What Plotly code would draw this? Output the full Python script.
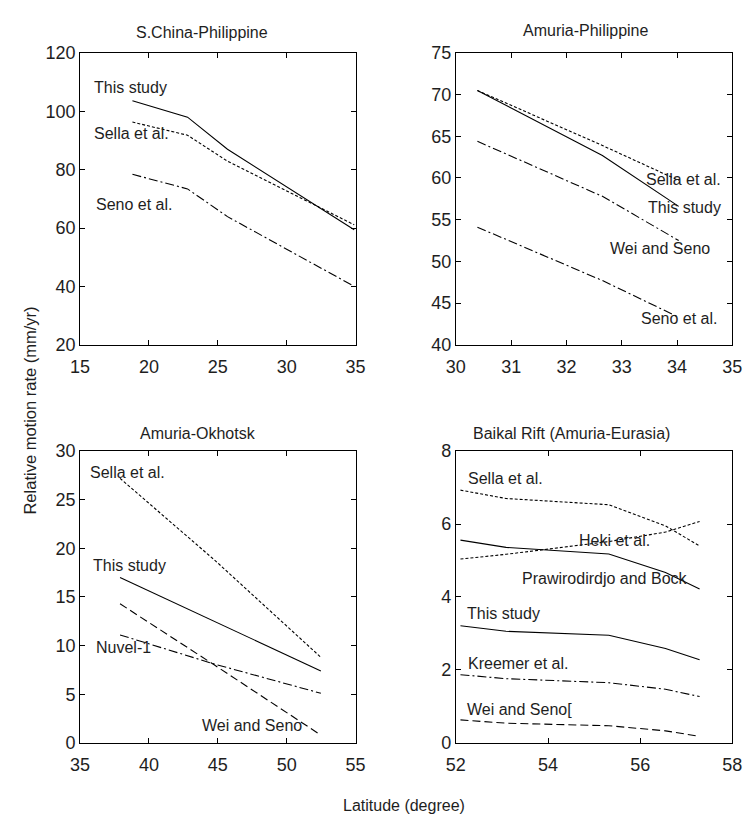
import plotly.graph_objects as go

# ---------------- data ----------------
# Panel 1: S.China-Philippine
p1_lat = [18.8, 22.8, 25.7, 34.9]
p1_this = [103.6, 98.0, 87.0, 59.4]
p1_sella = [96.3, 91.8, 82.9, 61.1]
p1_seno = [78.4, 73.4, 63.9, 40.0]

# Panel 2: Amuria-Philippine
p2_lat = [30.39, 32.65, 34.03]
p2_this = [70.5, 62.7, 56.6]
p2_sella = [70.5, 63.9, 59.7]
p2_wei = [64.4, 57.8, 52.5]
p2_seno = [54.1, 47.7, 43.3]

# Panel 3: Amuria-Okhotsk
p3_lat = [37.9, 44.76, 52.48]
p3_sella = [27.2, 18.8, 8.8]
p3_this = [17.0, 12.5, 7.4]
p3_wei = [14.3, 8.0, 0.8]
p3_nuvel = [11.1, 8.1, 5.1]

# Panel 4: Baikal Rift (Amuria-Eurasia)
p4_lat = [52.1, 53.09, 55.32, 56.55, 57.29]
p4_sella = [6.93, 6.70, 6.53, 5.95, 5.40]
p4_heki = [5.04, 5.17, 5.52, 5.78, 6.07]
p4_praw = [5.56, 5.36, 5.18, 4.67, 4.22]
p4_this = [3.21, 3.06, 2.95, 2.59, 2.28]
p4_kreemer = [1.87, 1.76, 1.65, 1.47, 1.27]
p4_wei = [0.63, 0.54, 0.47, 0.33, 0.18]

titles = ["S.China-Philippine", "Amuria-Philippine", "Amuria-Okhotsk", "Baikal Rift (Amuria-Eurasia)"]

# ---------------- figure ----------------
W, H = 754, 829
FONT = "Liberation Sans, Arial, sans-serif"
TXT = "#1e1e1e"

def px_x(p):
    return p / W

def px_y(p):
    return 1 - p / H

fig = go.Figure()

SOLID = "solid"
DOT = "3px,2px"
DASH = "8px,4px"
DASHDOT = "9px,3px,2px,3px"

def add(xs, ys, dash, ax):
    fig.add_trace(go.Scatter(x=xs, y=ys, mode="lines",
                             line=dict(color="black", width=1.1, dash=dash),
                             xaxis="x" + ax, yaxis="y" + ax, showlegend=False,
                             hoverinfo="skip"))

add(p1_lat, p1_this, SOLID, "")
add(p1_lat, p1_sella, DOT, "")
add(p1_lat, p1_seno, DASHDOT, "")

add(p2_lat, p2_this, SOLID, "2")
add(p2_lat, p2_sella, DOT, "2")
add(p2_lat, p2_wei, DASHDOT, "2")
add(p2_lat, p2_seno, DASHDOT, "2")

add(p3_lat, p3_sella, DOT, "3")
add(p3_lat, p3_this, SOLID, "3")
add(p3_lat, p3_wei, DASH, "3")
add(p3_lat, p3_nuvel, DASHDOT, "3")

add(p4_lat, p4_sella, DOT, "4")
add(p4_lat, p4_heki, DOT, "4")
add(p4_lat, p4_praw, SOLID, "4")
add(p4_lat, p4_this, SOLID, "4")
add(p4_lat, p4_kreemer, DASHDOT, "4")
add(p4_lat, p4_wei, DASH, "4")

def axis_style(rng, dtick, domain, anchor, standoff):
    return dict(range=rng, dtick=dtick, tick0=rng[0], domain=domain, anchor=anchor,
                showline=True, linecolor="black", linewidth=1, mirror="ticks",
                ticks="inside", ticklen=5, tickcolor="black", tickwidth=1,
                showgrid=False, zeroline=False, ticklabelstandoff=standoff,
                tickfont=dict(family=FONT, size=18, color=TXT))

xl = [px_x(72), px_x(355)]
xr = [px_x(458), px_x(742)]
yt = [px_y(343), px_y(44)]
yb = [px_y(751), px_y(452)]

fig.update_layout(
    width=W, height=H, margin=dict(l=0, r=0, t=0, b=0),
    paper_bgcolor="white", plot_bgcolor="white",
    xaxis=axis_style([15, 35], 5, xl, "y", 6),
    yaxis=axis_style([20, 120], 20, yt, "x", 0),
    xaxis2=axis_style([30, 35], 1, xr, "y2", 6),
    yaxis2=axis_style([40, 75], 5, yt, "x2", 0),
    xaxis3=axis_style([35, 55], 5, xl, "y3", 6),
    yaxis3=axis_style([0, 30], 5, yb, "x3", 0),
    xaxis4=axis_style([52, 58], 2, xr, "y4", 6),
    yaxis4=axis_style([0, 8], 2, yb, "x4", 0),
)

ann = []
def label(text, x, y, ax):
    ann.append(dict(text=text, x=x, y=y, xref="x" + ax, yref="y" + ax,
                    xanchor="left", yanchor="middle", showarrow=False,
                    font=dict(family=FONT, size=16, color=TXT)))

label("This study", 15.9, 108.3, "")
label("Sella et al.", 15.9, 92.4, "")
label("Seno et al.", 16.0, 68.0, "")

label("Sella et al.", 33.41, 59.8, "2")
label("This study", 33.44, 56.5, "2")
label("Wei and Seno", 32.76, 51.5, "2")
label("Seno et al.", 33.32, 43.2, "2")

label("Sella et al.", 35.6, 27.8, "3")
label("This study", 35.8, 18.2, "3")
label("Nuvel-1", 36.0, 9.8, "3")
label("Wei and Seno", 43.7, 1.8, "3")

label("Sella et al.", 52.23, 7.26, "4")
label("Heki et al.", 54.63, 5.54, "4")
label("Prawirodirdjo and Bock", 53.39, 4.5, "4")
label("This study", 52.19, 3.55, "4")
label("Kreemer et al.", 52.23, 2.18, "4")
label("Wei and Seno[", 52.19, 0.91, "4")

title_pos = [(197, 23), (591, 21), (193, 434), (577, 434)]
for t, (cx, cy) in zip(titles, title_pos):
    ann.append(dict(text=t, x=px_x(cx), y=px_y(cy), xref="paper", yref="paper",
                    xanchor="center", yanchor="middle", showarrow=False,
                    font=dict(family=FONT, size=16, color=TXT)))

ann.append(dict(text="Relative motion rate (mm/yr)", x=px_x(21), y=px_y(410),
                xref="paper", yref="paper", xanchor="center", yanchor="middle",
                textangle=-90, showarrow=False,
                font=dict(family=FONT, size=16.5, color=TXT)))
ann.append(dict(text="Latitude (degree)", x=px_x(405), y=px_y(815),
                xref="paper", yref="paper", xanchor="center", yanchor="middle",
                showarrow=False, font=dict(family=FONT, size=16, color=TXT)))

fig.update_layout(annotations=ann)
fig.write_html("out.html")
